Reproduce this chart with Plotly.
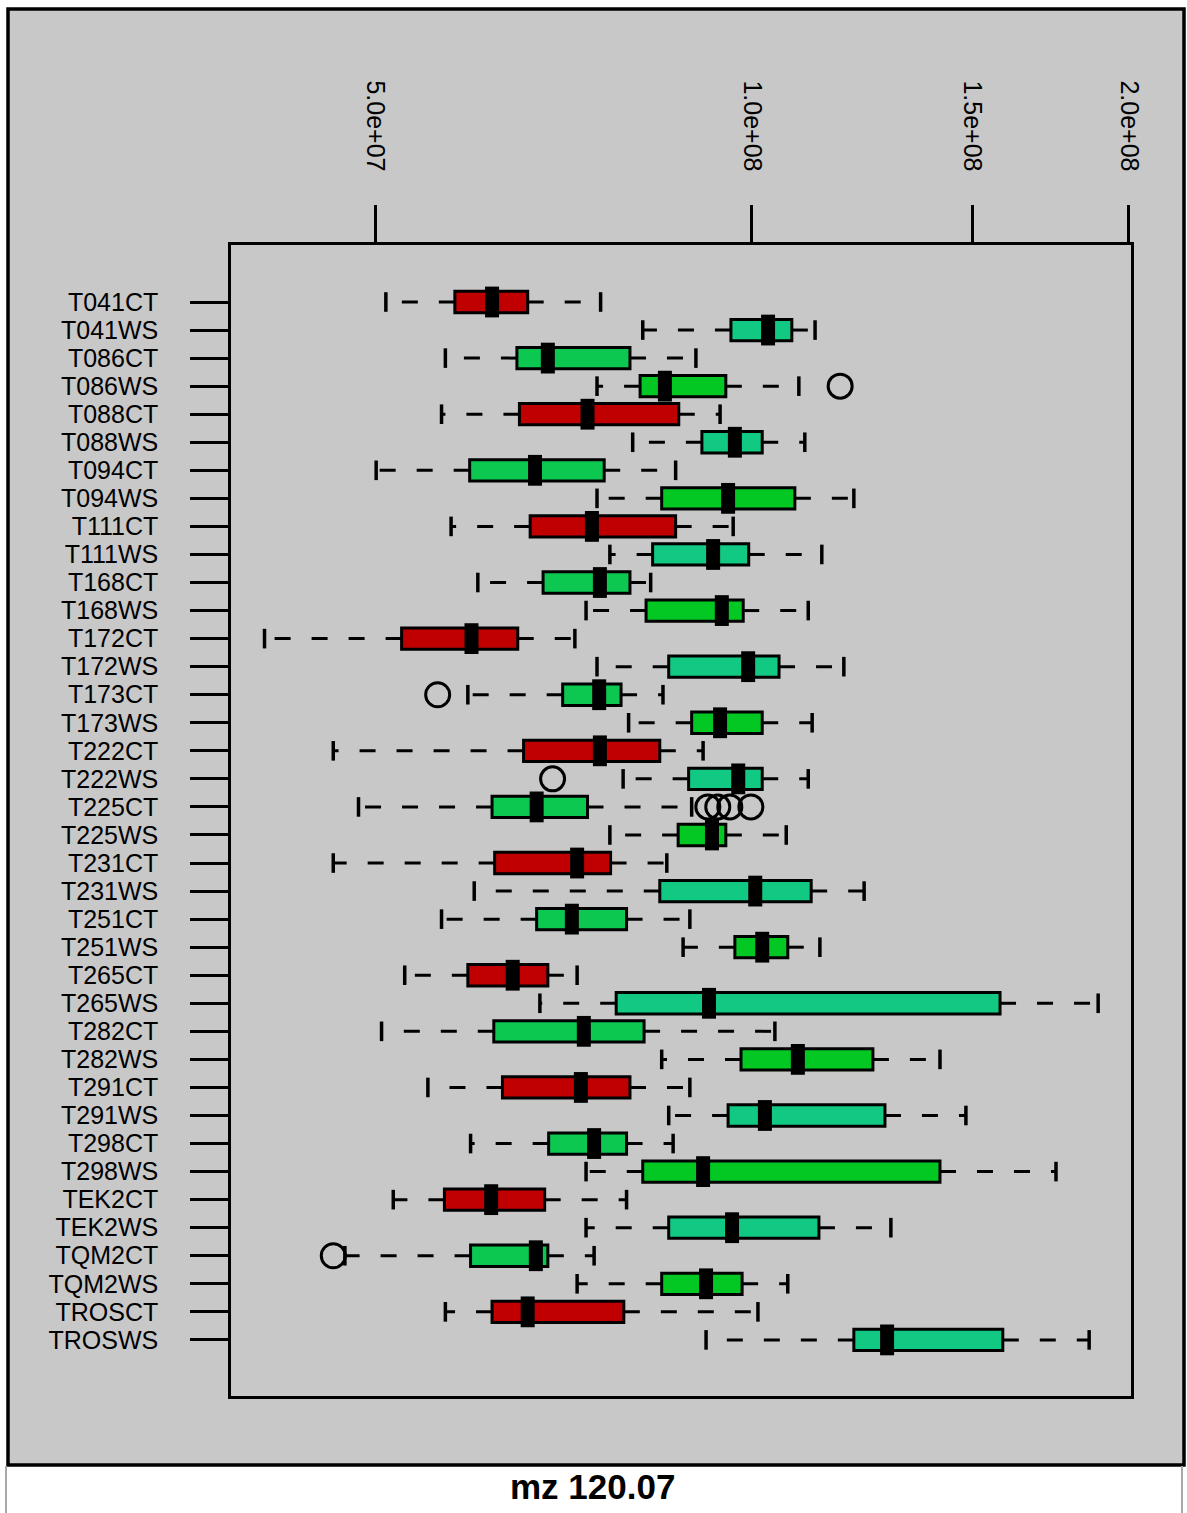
import plotly.graph_objects as go

# ---------------- data (values in millions of counts) ----------------
categories = ["T041CT", "T041WS", "T086CT", "T086WS", "T088CT", "T088WS", "T094CT", "T094WS",
              "T111CT", "T111WS", "T168CT", "T168WS", "T172CT", "T172WS", "T173CT", "T173WS",
              "T222CT", "T222WS", "T225CT", "T225WS", "T231CT", "T231WS", "T251CT", "T251WS",
              "T265CT", "T265WS", "T282CT", "T282WS", "T291CT", "T291WS", "T298CT", "T298WS",
              "TEK2CT", "TEK2WS", "TQM2CT", "TQM2WS", "TROSCT", "TROSWS"]

whisker_low = [51.0, 81.8, 56.9, 75.2, 56.5, 80.3, 50.1, 75.2,
               57.5, 77.0, 60.4, 73.7, 40.8, 75.2, 59.3, 79.7,
               46.3, 78.9, 48.5, 77.0, 46.3, 60.0, 56.5, 88.1,
               52.8, 67.7, 50.6, 84.7, 55.1, 85.8, 59.6, 73.7,
               51.7, 73.7, 47.3, 72.5, 56.9, 91.9]
q1 = [57.9, 96.2, 64.9, 81.4, 65.2, 91.2, 59.5, 84.7,
      66.5, 83.3, 68.1, 82.3, 52.5, 85.8, 70.6, 89.5,
      65.7, 89.0, 62.0, 87.3, 62.3, 84.4, 67.3, 96.9,
      59.3, 77.9, 62.2, 98.0, 63.2, 95.7, 68.8, 81.8,
      56.8, 85.8, 59.6, 84.7, 62.0, 120.6]
median = [62.0, 103.0, 68.7, 85.2, 73.9, 96.9, 67.1, 95.7,
          74.5, 93.1, 75.6, 94.6, 59.7, 99.3, 75.5, 94.3,
          75.6, 97.5, 67.3, 92.9, 72.5, 100.6, 71.8, 101.9,
          64.4, 92.4, 73.4, 108.8, 73.0, 102.4, 74.8, 91.4,
          61.9, 96.4, 67.2, 91.9, 66.2, 128.2]
q3 = [66.2, 107.6, 79.9, 95.3, 87.4, 101.9, 76.2, 108.2,
      86.9, 99.4, 79.9, 98.4, 65.0, 105.1, 78.6, 101.9,
      84.4, 101.9, 73.9, 95.3, 77.1, 111.5, 79.4, 106.8,
      68.7, 157.8, 82.0, 124.9, 79.9, 127.7, 79.4, 141.3,
      68.3, 113.1, 68.7, 98.2, 79.0, 158.6]
whisker_high = [75.7, 112.3, 90.2, 109.0, 94.3, 110.2, 86.9, 120.6,
                96.6, 113.7, 83.0, 110.9, 72.2, 118.4, 84.9, 111.7,
                91.4, 110.9, 89.5, 106.5, 85.5, 122.9, 89.2, 113.3,
                72.5, 189.0, 104.3, 141.3, 89.2, 148.2, 86.5, 174.9,
                79.4, 129.1, 74.8, 106.8, 101.1, 185.9]
group = ["red", "teal", "green", "lime", "red", "teal", "green", "lime",
         "red", "teal", "green", "lime", "red", "teal", "green", "lime",
         "red", "teal", "green", "lime", "red", "teal", "green", "lime",
         "red", "teal", "green", "lime", "red", "teal", "green", "lime",
         "red", "teal", "green", "lime", "red", "teal"]

outlier_cat = ["T086WS", "T173CT", "T222WS", "T225CT", "T225CT", "T225CT", "T225CT", "TQM2CT"]
outlier_val = [117.6, 56.1, 69.3, 92.2, 93.9, 96.0, 99.8, 46.3]

tick_vals = [5.0e7, 1.0e8, 1.5e8, 2.0e8]
tick_text = ["5.0e+07", "1.0e+08", "1.5e+08", "2.0e+08"]
title_text = "mz 120.07"

UNIT = 1e6
colors = {"red": "#C00000", "teal": "#12C983", "green": "#0CC850", "lime": "#03C823"}

FONT = "Liberation Sans, Arial, sans-serif"
pos = list(range(len(categories)))
index_of = {c: i for i, c in enumerate(categories)}

fig = go.Figure()

# whiskers (dashed, drawn from box edge outwards)
wx, wy = [], []
for i in pos:
    wx += [q1[i] * UNIT, whisker_low[i] * UNIT, None, q3[i] * UNIT, whisker_high[i] * UNIT, None]
    wy += [i, i, None, i, i, None]
fig.add_trace(go.Scatter(x=wx, y=wy, mode="lines", connectgaps=False,
                         line=dict(color="black", width=3, dash="16px,21px"),
                         hoverinfo="skip", showlegend=False))

# boxes
for g in ["red", "teal", "green", "lime"]:
    idx = [i for i in pos if group[i] == g]
    fig.add_trace(go.Box(
        orientation="h",
        y=idx,
        q1=[q1[i] * UNIT for i in idx],
        median=[median[i] * UNIT for i in idx],
        q3=[q3[i] * UNIT for i in idx],
        lowerfence=[q1[i] * UNIT for i in idx],
        upperfence=[q3[i] * UNIT for i in idx],
        fillcolor=colors[g],
        line=dict(color="black", width=3),
        width=0.76, whiskerwidth=0,
        boxpoints=False, hoverinfo="skip", showlegend=False,
    ))

# thick medians
fig.add_trace(go.Scatter(x=[m * UNIT for m in median], y=pos, mode="markers",
                         marker=dict(symbol="line-ns", size=22,
                                     line=dict(color="black", width=14)),
                         hoverinfo="skip", showlegend=False))

# whisker staples
fig.add_trace(go.Scatter(x=[v * UNIT for v in whisker_low] + [v * UNIT for v in whisker_high],
                         y=pos + pos, mode="markers",
                         marker=dict(symbol="line-ns", size=14,
                                     line=dict(color="black", width=3.5)),
                         hoverinfo="skip", showlegend=False))

# outliers
fig.add_trace(go.Scatter(x=[v * UNIT for v in outlier_val],
                         y=[index_of[c] for c in outlier_cat], mode="markers",
                         marker=dict(symbol="circle-open", size=24, color="black",
                                     line=dict(color="black", width=3)),
                         hoverinfo="skip", showlegend=False))

# ---------------- layout ----------------
W, H = 1187, 1513
ML, MR, MT, MB = 231, 56, 245, 117
PW, PH = W - ML - MR, H - MT - MB


def px(xp):
    return (xp - ML) / PW


def py(yp):
    return (H - MB - yp) / PH


shapes = [
    dict(type="rect", xref="paper", yref="paper", layer="below",
         x0=px(8), x1=px(1184), y0=py(1465), y1=py(9),
         fillcolor="#C8C8C8", line=dict(color="black", width=3.5)),
    dict(type="line", xref="paper", yref="paper", layer="below",
         x0=px(6), x1=px(6), y0=py(1466), y1=py(1513),
         line=dict(color="#A8A8A8", width=2)),
    dict(type="line", xref="paper", yref="paper", layer="below",
         x0=px(1182), x1=px(1182), y0=py(1466), y1=py(1513),
         line=dict(color="#A8A8A8", width=2)),
]

fig.update_layout(
    width=W, height=H, autosize=False,
    margin=dict(l=ML, r=MR, t=MT, b=MB, pad=0),
    paper_bgcolor="white", plot_bgcolor="#C8C8C8",
    font=dict(family=FONT, color="black", size=25),
    boxmode="overlay",
    shapes=shapes,
    annotations=[dict(text="<b>" + title_text + "</b>", xref="paper", yref="paper",
                      x=px(592), y=py(1486), xanchor="center", yanchor="middle",
                      showarrow=False, font=dict(family=FONT, size=35, color="black"))],
    xaxis=dict(type="log", range=[7.5839, 8.3027], side="top",
               tickmode="array", tickvals=tick_vals, ticktext=tick_text,
               tickangle=90, ticks="outside", ticklen=37, tickwidth=2.5, tickcolor="black",
               ticklabelstandoff=25,
               showline=True, mirror=True, linecolor="black", linewidth=2.5,
               showgrid=False, zeroline=False,
               tickfont=dict(family=FONT, size=25, color="black")),
    yaxis=dict(range=[39.0, -2.032], tickmode="array", tickvals=pos, ticktext=categories,
               ticks="outside", ticklen=38, tickwidth=2.5, tickcolor="black",
               ticklabelstandoff=27,
               showline=True, mirror=True, linecolor="black", linewidth=2.5,
               showgrid=False, zeroline=False,
               tickfont=dict(family=FONT, size=25, color="black")),
)

fig.write_html("out.html", config={"displayModeBar": False},
               post_script="document.body.style.margin='0px';")
